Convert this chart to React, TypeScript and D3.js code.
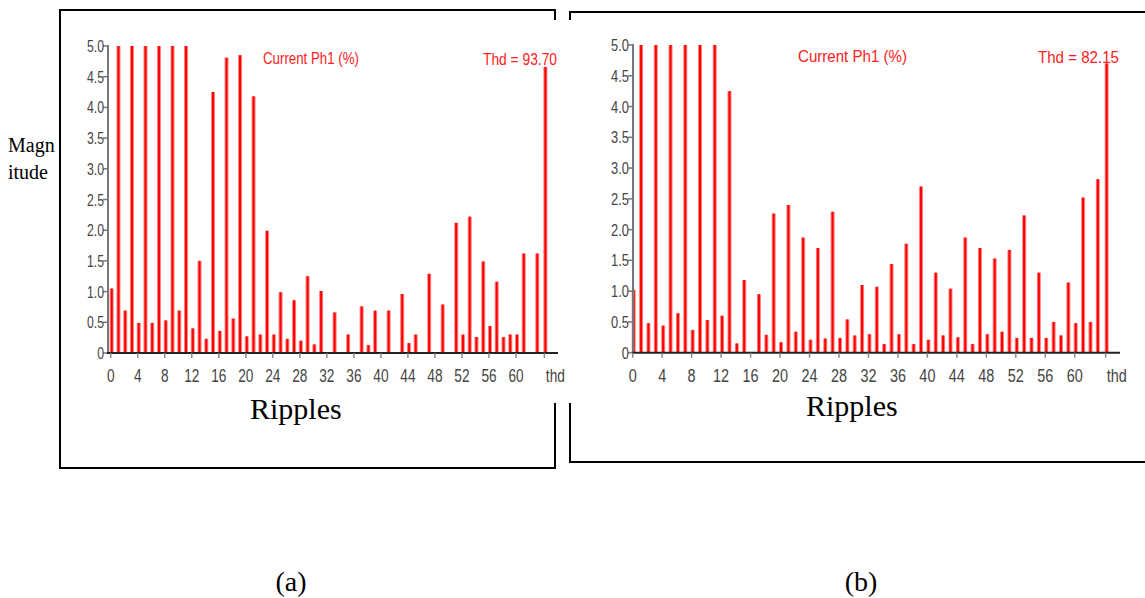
import React from "react";
import * as d3 from "d3";

// Harmonic magnitudes (%), index 0..63, values clipped at 5.0 as displayed
const harmonicsA = [
  1.05, 5.0, 0.69, 5.0, 0.49, 5.0, 0.49, 5.0, 0.53, 5.0, 0.69, 5.0, 0.4, 1.5, 0.23, 4.25,
  0.36, 4.81, 0.56, 4.85, 0.27, 4.18, 0.3, 1.99, 0.3, 0.99, 0.23, 0.86, 0.2, 1.25, 0.14, 1.01,
  0, 0.66, 0, 0.3, 0, 0.76, 0.13, 0.69, 0, 0.69, 0, 0.96, 0.16, 0.3, 0, 1.29,
  0, 0.79, 0, 2.12, 0.3, 2.22, 0.26, 1.49, 0.44, 1.16, 0.26, 0.3, 0.3, 1.62, 0, 1.62,
];
const thdBarA = 4.66;
const thdTextA = "Thd = 93.70";

const harmonicsB = [
  1.02, 5.0, 0.48, 5.0, 0.44, 5.0, 0.64, 5.0, 0.37, 5.0, 0.53, 5.0, 0.6, 4.25, 0.15, 1.18,
  0, 0.95, 0.29, 2.26, 0.17, 2.4, 0.34, 1.87, 0.21, 1.7, 0.23, 2.29, 0.24, 0.54, 0.28, 1.1,
  0.3, 1.07, 0.14, 1.44, 0.3, 1.77, 0.14, 2.7, 0.21, 1.3, 0.28, 1.04, 0.25, 1.87, 0.14, 1.7,
  0.3, 1.53, 0.34, 1.67, 0.24, 2.23, 0.24, 1.3, 0.24, 0.5, 0.28, 1.14, 0.48, 2.52, 0.5, 2.82,
];
const thdBarB = 4.7;
const thdTextB = "Thd = 82.15";

const yTickValues = [0, 0.5, 1.0, 1.5, 2.0, 2.5, 3.0, 3.5, 4.0, 4.5, 5.0];
const yTickLabels = ["0", "0.5", "1.0", "1.5", "2.0", "2.5", "3.0", "3.5", "4.0", "4.5", "5.0"];
const xTickValues = [0, 4, 8, 12, 16, 20, 24, 28, 32, 36, 40, 44, 48, 52, 56, 60];
const thdPosition = 64.2;
const chartTitle = "Current Ph1 (%)";
const xAxisTitle = "Ripples";
const yAxisTitle = ["Magn", "itude"];
const panelLabels = ["(a)", "(b)"];

const NARROW = "'Liberation Sans', Arial, sans-serif";
const SERIF = "'Liberation Serif', 'Times New Roman', serif";

type PanelProps = {
  values: number[];
  thdBar: number;
  thdText: string;
  x0: number;
  dx: number;
  yTop: number;
  yBottom: number;
  yAxisX: number;
  axisEnd: number;
  sx: number;
  titleX: number;
  titleW: number;
  titleY: number;
  thdX: number;
  thdW: number;
  thdY: number;
  ripplesX: number;
  ripplesY: number;
};

function Panel(p: PanelProps) {
  const x = d3.scaleLinear().domain([0, thdPosition]).range([p.x0, p.x0 + thdPosition * p.dx]);
  const y = d3.scaleLinear().domain([0, 5]).range([p.yBottom, p.yTop]);
  const bars = p.values.map((v, i) => ({ pos: i, v })).filter((d) => d.v > 0);
  bars.push({ pos: thdPosition, v: p.thdBar });
  const barOff = 1;
  return (
    <g>
      {bars.map((d, i) => (
        <g key={i}>
          <rect x={x(d.pos) + barOff - 2} y={y(d.v)} width={4} height={y(0) - y(d.v)} fill="#ff8080" />
          <rect x={x(d.pos) + barOff - 1} y={y(d.v)} width={2} height={y(0) - y(d.v)} fill="#ff0000" />
        </g>
      ))}
      <line x1={p.yAxisX} x2={p.yAxisX} y1={p.yTop - 1} y2={p.yBottom} stroke="#777" strokeWidth={2} />
      {yTickValues.map((t, i) => (
        <g key={i}>
          <line x1={p.yAxisX - 5} x2={p.yAxisX} y1={y(t)} y2={y(t)} stroke="#777" strokeWidth={1.5} />
          <text
            x={0}
            y={0}
            transform={`translate(${p.yAxisX - 4},${y(t) + 6}) scale(${p.sx},1)`}
            textAnchor="end"
            fontFamily={NARROW}
            fontSize={17}
            fill="#444"
          >
            {yTickLabels[i]}
          </text>
        </g>
      ))}
      <line x1={p.yAxisX - 1} x2={p.axisEnd} y1={p.yBottom} y2={p.yBottom} stroke="#222" strokeWidth={2} />
      {[...xTickValues, thdPosition].map((t, i) => (
        <g key={i}>
          <line x1={x(t)} x2={x(t)} y1={p.yBottom} y2={p.yBottom + 5} stroke="#888" strokeWidth={1.5} />
          <text
            x={0}
            y={0}
            transform={`translate(${x(t) + (i === xTickValues.length ? 11 : 0)},${p.yBottom + 29}) scale(${p.sx},1)`}
            textAnchor="middle"
            fontFamily={NARROW}
            fontSize={19}
            fill="#444"
          >
            {i === xTickValues.length ? "thd" : String(t)}
          </text>
        </g>
      ))}
      <text x={p.titleX} y={p.titleY} fontFamily={NARROW} fontSize={16} fill="#ff2020" textLength={p.titleW} lengthAdjust="spacingAndGlyphs">
        {chartTitle}
      </text>
      <text x={p.thdX} y={p.thdY} fontFamily={NARROW} fontSize={16} fill="#ff2020" textLength={p.thdW} lengthAdjust="spacingAndGlyphs">
        {p.thdText}
      </text>
      <text x={p.ripplesX} y={p.ripplesY} fontFamily={SERIF} fontSize={30} fill="#000">
        {xAxisTitle}
      </text>
    </g>
  );
}

export default function App() {
  return (
    <svg width={1145} height={598} style={{ position: "absolute", left: 0, top: 0, background: "#fff" }}>
      <rect x={0} y={0} width={1145} height={598} fill="#fff" />
      <rect x={60} y={10} width={495} height={458} fill="none" stroke="#000" strokeWidth={2} />
      <rect x={570} y={12} width={600} height={450} fill="none" stroke="#000" strokeWidth={2} />
      <rect x={62} y={20} width={1083} height={383} fill="#fff" />
      <text x={8} y={152} fontFamily={SERIF} fontSize={20} fill="#000">{yAxisTitle[0]}</text>
      <text x={8} y={179} fontFamily={SERIF} fontSize={20} fill="#000">{yAxisTitle[1]}</text>
      <Panel
        values={harmonicsA}
        thdBar={thdBarA}
        thdText={thdTextA}
        x0={110.7}
        dx={6.755}
        yTop={46}
        yBottom={353}
        yAxisX={108}
        axisEnd={558}
        sx={0.72}
        titleX={263}
        titleW={96}
        titleY={64}
        thdX={483}
        thdW={74}
        thdY={65}
        ripplesX={250}
        ripplesY={419}
      />
      <Panel
        values={harmonicsB}
        thdBar={thdBarB}
        thdText={thdTextB}
        x0={632.7}
        dx={7.367}
        yTop={45}
        yBottom={352.7}
        yAxisX={633}
        axisEnd={1120}
        sx={0.76}
        titleX={798}
        titleW={109}
        titleY={62}
        thdX={1038}
        thdW={81}
        thdY={63}
        ripplesX={806}
        ripplesY={416}
      />
      <text x={291} y={591} textAnchor="middle" fontFamily={SERIF} fontSize={28} fill="#000">{panelLabels[0]}</text>
      <text x={861} y={591} textAnchor="middle" fontFamily={SERIF} fontSize={28} fill="#000">{panelLabels[1]}</text>
    </svg>
  );
}
